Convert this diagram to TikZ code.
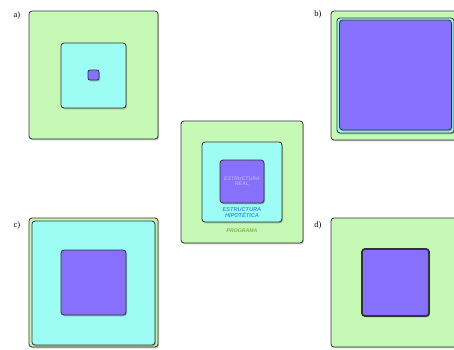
\documentclass[tikz,border=0pt]{standalone}
\usepackage{fontspec}
\setmainfont{Liberation Serif}
\newfontfamily\labfont{Liberation Sans}
\usetikzlibrary{shadows}
\definecolor{prog}{HTML}{C5F9B5}
\definecolor{hipo}{HTML}{9DFCF3}
\definecolor{real}{HTML}{8670FC}
\definecolor{realtxt}{HTML}{B4AAF6}
\definecolor{hipotxt}{HTML}{3A9ADC}
\definecolor{progtxt}{HTML}{86B84A}
\tikzset{
  box/.style={draw=black!80, line width=0.8pt, rounded corners=3pt, inner sep=0pt, outer sep=0pt,
    drop shadow={shadow xshift=1pt, shadow yshift=-1.3pt, opacity=0.22, fill=black}},
  pbox/.style={box, fill=prog},
  hbox/.style={box, fill=hipo},
  rbox/.style={box, fill=real},
  tag/.style={font=\fontsize{8.5}{9}\selectfont, inner sep=0pt},
  inner/.style={font=\labfont\bfseries\itshape\fontsize{5.2}{6}\selectfont, align=center, inner sep=0pt}
}
\begin{document}
\begin{tikzpicture}[x=1pt,y=-1pt]
\useasboundingbox (0,0) rectangle (454,349);
\clip (0,0) rectangle (454,349);
% panel a
\node[pbox, minimum width=129pt, minimum height=128pt] (aP) at (93.5,75) {};
\node[hbox, minimum width=65pt, minimum height=65pt] (aH) at (93.5,75.5) {};
\node[rbox, rounded corners=2pt, minimum width=11pt, minimum height=10pt] (aR) at (93.5,75) {};
\node[tag] (aL) at (17,15) {a)};
% panel b
\node[pbox, minimum width=129pt, minimum height=129pt] (bP) at (395.5,75.5) {};
\node[hbox, minimum width=117pt, minimum height=115pt] (bH) at (395.5,75.5) {};
\node[rbox, minimum width=112pt, minimum height=110pt] (bR) at (395.5,75) {};
\node[tag] (bL) at (318,14) {b)};
% center
\node[pbox, minimum width=122pt, minimum height=122pt] (cP) at (242,182) {};
\node[hbox, minimum width=80pt, minimum height=80pt] (cH) at (242,182) {};
\node[rbox, minimum width=44pt, minimum height=43pt] (cR) at (242,181.5) {};
\node[inner, text=realtxt] (cRt) at (242,181) {ESTRUCTURA\\[-1pt]REAL};
\node[inner, text=hipotxt, font=\labfont\bfseries\itshape\fontsize{5.6}{6.4}\selectfont] (cHt) at (242,212.5) {ESTRUCTURA\\[-0.5pt]HIPOTÉTICA};
\node[inner, text=progtxt] (cPt) at (242,231) {PROGRAMA};
% panel c
\node[pbox, minimum width=129pt, minimum height=129pt] (dP) at (93.5,282.5) {};
\node[hbox, minimum width=123pt, minimum height=124pt] (dH) at (93.5,283) {};
\node[rbox, minimum width=65pt, minimum height=65pt] (dR) at (93.5,282.5) {};
\node[tag] (dL) at (17,225) {c)};
% panel d
\node[pbox, minimum width=129pt, minimum height=129pt] (eP) at (395.5,282.5) {};
\node[rbox, line width=1.8pt, minimum width=67pt, minimum height=67pt] (eR) at (395.5,282.5) {};
\node[tag] (eL) at (318,225) {d)};
\end{tikzpicture}
\end{document}
